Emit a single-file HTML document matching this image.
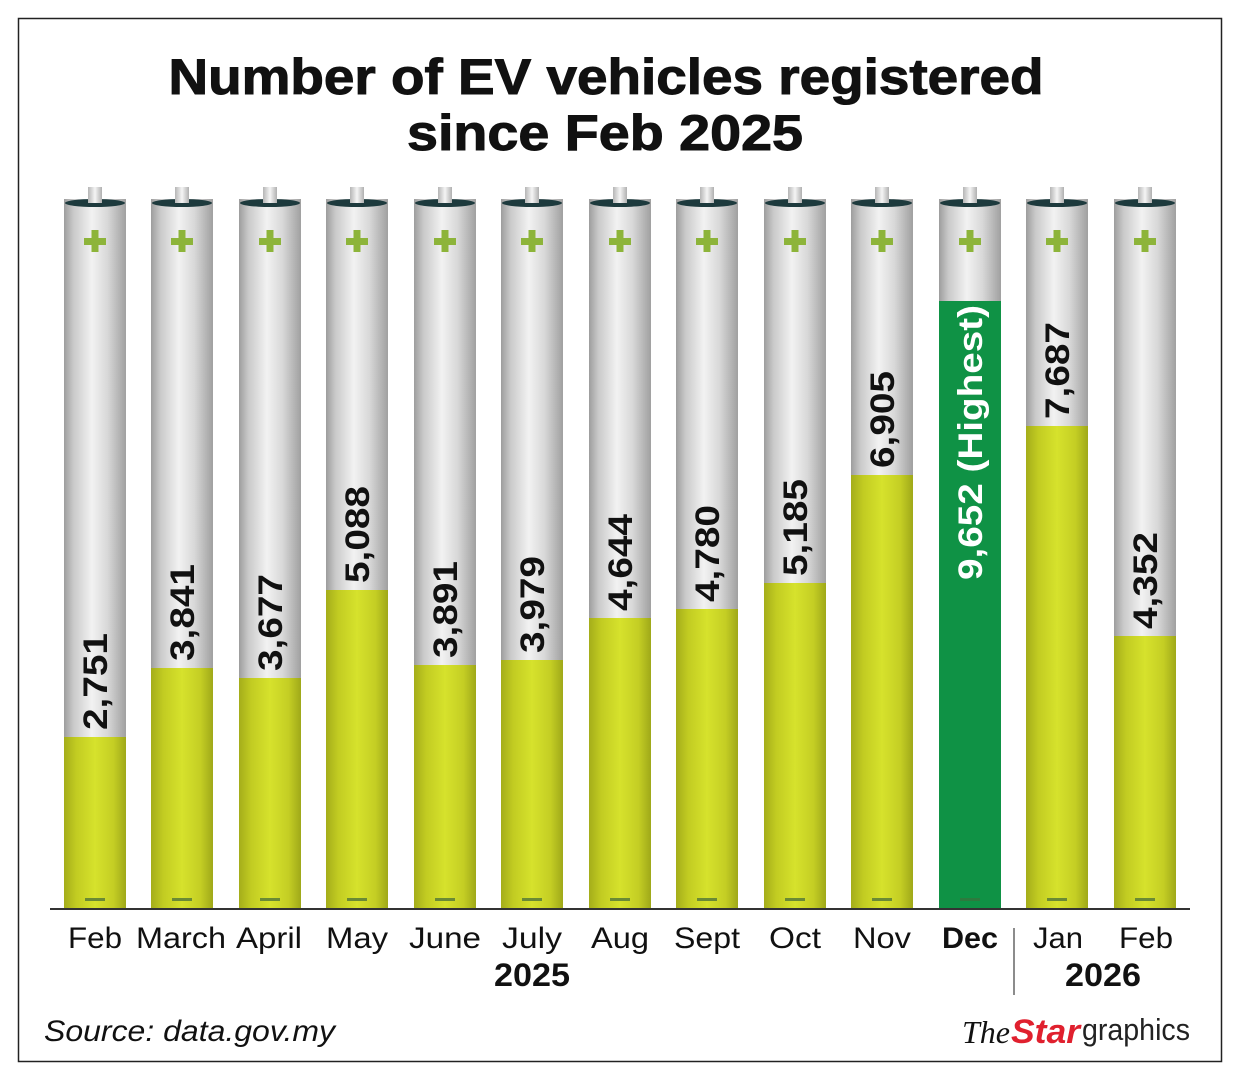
<!DOCTYPE html>
<html><head><meta charset="utf-8"><style>
body{margin:0;background:#fff;}
svg{display:block;font-family:"Liberation Sans",Arial,sans-serif;}
</style></head><body>
<svg width="1240" height="1080" viewBox="0 0 1240 1080">
<defs>
<linearGradient id="sil" x1="0" x2="1" y1="0" y2="0">
<stop offset="0" stop-color="#9d9d9d"/><stop offset="0.15" stop-color="#c9c9c9"/><stop offset="0.45" stop-color="#f2f2f2"/><stop offset="0.7" stop-color="#d8d8d8"/><stop offset="1" stop-color="#a0a0a0"/>
</linearGradient>
<linearGradient id="yel" x1="0" x2="1" y1="0" y2="0">
<stop offset="0" stop-color="#a4ad1a"/><stop offset="0.2" stop-color="#c2cc22"/><stop offset="0.5" stop-color="#d6e22c"/><stop offset="0.8" stop-color="#c4ce24"/><stop offset="1" stop-color="#9fa819"/>
</linearGradient>
<linearGradient id="cap" x1="0" x2="1" y1="0" y2="0">
<stop offset="0" stop-color="#b5b5b5"/><stop offset="0.5" stop-color="#f5f5f5"/><stop offset="1" stop-color="#b0b0b0"/>
</linearGradient>
</defs>
<rect x="18.5" y="18.5" width="1203" height="1043" fill="#fff" stroke="#222" stroke-width="1.5"/>
<text x="606" y="94" text-anchor="middle" font-size="50" font-weight="bold" fill="#111" textLength="875" lengthAdjust="spacingAndGlyphs" stroke="#111" stroke-width="1">Number of EV vehicles registered</text>
<text x="605" y="150" text-anchor="middle" font-size="50" font-weight="bold" fill="#111" textLength="396" lengthAdjust="spacingAndGlyphs" stroke="#111" stroke-width="1">since Feb 2025</text>
<g id="bars"></g>
<line x1="50" y1="909" x2="1190" y2="909" stroke="#333" stroke-width="2"/>
<g font-size="30" fill="#111" text-anchor="middle">
<text x="95" y="948" textLength="54" lengthAdjust="spacingAndGlyphs">Feb</text><text x="181" y="948" textLength="90" lengthAdjust="spacingAndGlyphs">March</text><text x="269" y="948" textLength="66" lengthAdjust="spacingAndGlyphs">April</text><text x="357" y="948" textLength="62" lengthAdjust="spacingAndGlyphs">May</text><text x="445" y="948" textLength="72" lengthAdjust="spacingAndGlyphs">June</text><text x="532" y="948" textLength="60" lengthAdjust="spacingAndGlyphs">July</text><text x="620" y="948" textLength="58" lengthAdjust="spacingAndGlyphs">Aug</text><text x="707" y="948" textLength="66" lengthAdjust="spacingAndGlyphs">Sept</text><text x="795" y="948" textLength="52" lengthAdjust="spacingAndGlyphs">Oct</text><text x="882" y="948" textLength="58" lengthAdjust="spacingAndGlyphs">Nov</text><text x="970" y="948" font-weight="bold" textLength="56" lengthAdjust="spacingAndGlyphs">Dec</text><text x="1058" y="948" textLength="50" lengthAdjust="spacingAndGlyphs">Jan</text><text x="1146" y="948" textLength="54" lengthAdjust="spacingAndGlyphs">Feb</text>
<text x="532" y="986" font-weight="bold" font-size="32" textLength="76" lengthAdjust="spacingAndGlyphs">2025</text><text x="1103" y="986" font-weight="bold" font-size="32" textLength="76" lengthAdjust="spacingAndGlyphs">2026</text>
</g>
<line x1="1014" y1="928" x2="1014" y2="995" stroke="#666" stroke-width="1.5"/>
<text x="44" y="1041" font-size="30" font-style="italic" fill="#111" textLength="291" lengthAdjust="spacingAndGlyphs">Source: data.gov.my</text>
<text x="962" y="1043" font-size="32" font-style="italic" font-family="Liberation Serif,serif" fill="#111">The</text>
<text x="1011" y="1043" font-size="34" font-style="italic" font-weight="bold" fill="#e0202e" textLength="69" lengthAdjust="spacingAndGlyphs">Star</text>
<text x="1082" y="1040" font-size="31" fill="#222" textLength="108" lengthAdjust="spacingAndGlyphs">graphics</text>
</svg>
<script>
const cx=[95,182,270,357,445,532,620,707,795,882,970,1057,1145];
const tops=[737,668,678,590,665,660,618,609,583,475,301,426,636];
const vals=["2,751","3,841","3,677","5,088","3,891","3,979","4,644","4,780","5,185","6,905","9,652 (Highest)","7,687","4,352"];
let s="";
cx.forEach((c,i)=>{
 const x=c-31,w=62;
 s+=`<rect x="${c-7}" y="187" width="14" height="14" fill="url(#cap)"/>`;
 s+=`<rect x="${x}" y="199" width="${w}" height="710" fill="url(#sil)"/>`;
 s+=`<ellipse cx="${c}" cy="203" rx="30" ry="4" fill="#1d3a3d"/>`;
 s+=`<rect x="${c-7}" y="196" width="14" height="7" fill="url(#cap)"/>`;
 const dec=i==10;
 s+=`<rect x="${x}" y="${tops[i]}" width="${w}" height="${909-tops[i]}" fill="${dec?'#0f9245':'url(#yel)'}"/>`;
 s+=`<rect x="${c-11}" y="238" width="22" height="7" fill="#8db43a"/><rect x="${c-3.5}" y="230" width="7" height="22" fill="#8db43a"/>`;
 s+=`<rect x="${c-10}" y="898" width="20" height="3" fill="${dec?'#2d7a3e':'#6a8a35'}"/>`;
 const ty=dec?305:tops[i]-7;
 const len=dec?275:97;
 s+=`<text transform="translate(${c+12},${ty}) rotate(-90)" text-anchor="${dec?'end':'start'}" font-size="34" font-weight="bold" fill="${dec?'#fff':'#111'}" textLength="${len}" lengthAdjust="spacingAndGlyphs">${vals[i]}</text>`;
});
document.getElementById("bars").innerHTML=s;
</script>
</body></html>
